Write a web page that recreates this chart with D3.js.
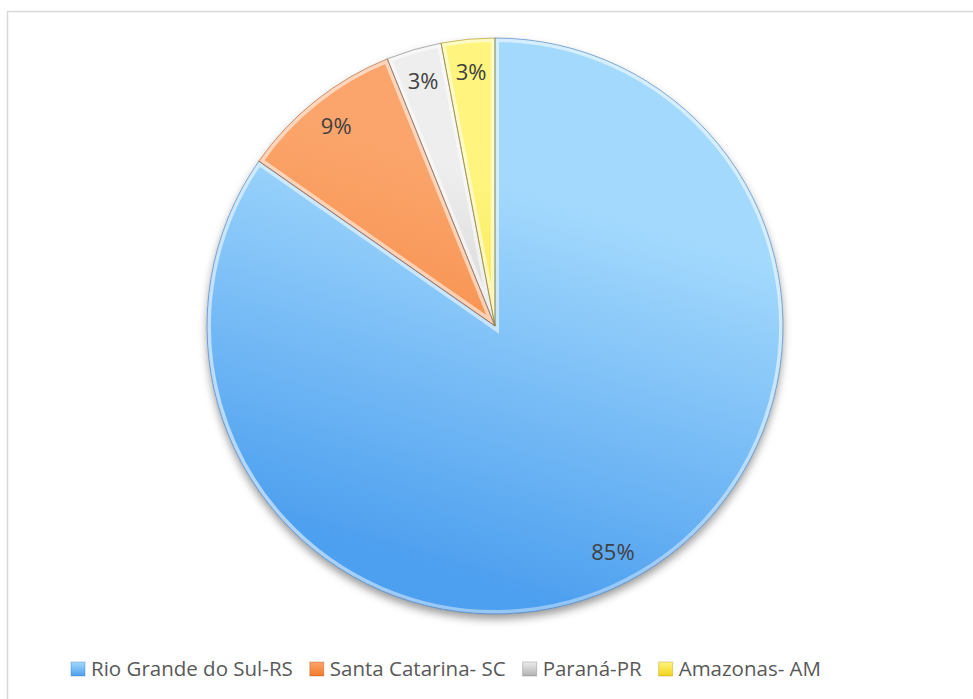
<!DOCTYPE html>
<html>
<head>
<meta charset="utf-8">
<script src="https://cdn.jsdelivr.net/npm/d3@7"></script>
<style>
  body { margin: 0; background: #fff; }
  text { font-family: "Open Sans", "Noto Sans", sans-serif; }
</style>
</head>
<body>
<script>
const categories = ["Rio Grande do Sul-RS", "Santa Catarina- SC", "Paraná-PR", "Amazonas- AM"];
const values = [84.7, 9.2, 3.1, 3.0];
const labels = ["85%", "9%", "3%", "3%"];

const width = 973,
  height = 699,
  cx = 495,
  cy = 326,
  radius = 288;

const colors = [
  { top: "#a3d9fd", bottom: "#4d9fef", edge: "#2f6fb8" },
  { top: "#fba56c", bottom: "#f27a2b", edge: "#a84f18" },
  { top: "#eeeeee", bottom: "#b0b0b0", edge: "#6f6f6f" },
  { top: "#fff57e", bottom: "#f2d31a", edge: "#9a830c" }
];

const svg = d3.select("body").append("svg")
  .attr("width", width)
  .attr("height", height);

// chart frame
svg.append("rect")
  .attr("x", 7.5).attr("y", 11.5)
  .attr("width", width + 20).attr("height", height + 20)
  .attr("fill", "none")
  .attr("stroke", "#d9d9d9")
  .attr("stroke-width", 1.5);

const defs = svg.append("defs");

const shadow = defs.append("filter")
  .attr("id", "shadow")
  .attr("x", "-10%").attr("y", "-10%")
  .attr("width", "120%").attr("height", "120%");
shadow.append("feDropShadow")
  .attr("dx", 0).attr("dy", 5)
  .attr("stdDeviation", 4)
  .attr("flood-color", "#000")
  .attr("flood-opacity", 0.4);

colors.forEach((c, i) => {
  const g = defs.append("linearGradient")
    .attr("id", "grad" + i)
    .attr("gradientUnits", "userSpaceOnUse")
    .attr("x1", cx + radius * 0.4).attr("y1", cy - radius)
    .attr("x2", cx - radius * 0.2).attr("y2", cy + radius);
  g.append("stop").attr("offset", "0%").attr("stop-color", c.top);
  g.append("stop").attr("offset", "65%").attr("stop-color", c.bottom);

  const lg = defs.append("linearGradient")
    .attr("id", "lg" + i)
    .attr("x1", 0).attr("y1", 0).attr("x2", 0).attr("y2", 1);
  lg.append("stop").attr("offset", "0%").attr("stop-color", c.top);
  lg.append("stop").attr("offset", "100%").attr("stop-color", c.bottom);
});

// light on top, dark on the bottom, for the bevelled rim
const bevel = defs.append("linearGradient")
  .attr("id", "bevel")
  .attr("gradientUnits", "userSpaceOnUse")
  .attr("x1", cx - radius * 0.3).attr("y1", cy - radius)
  .attr("x2", cx + radius * 0.3).attr("y2", cy + radius);
bevel.append("stop").attr("offset", "0%").attr("stop-color", "#fff").attr("stop-opacity", 0.55);
bevel.append("stop").attr("offset", "55%").attr("stop-color", "#fff").attr("stop-opacity", 0.15);
bevel.append("stop").attr("offset", "80%").attr("stop-color", "#0a2a55").attr("stop-opacity", 0.15);
bevel.append("stop").attr("offset", "100%").attr("stop-color", "#0a2a55").attr("stop-opacity", 0.55);

const pie = d3.pie().sort(null).value(d => d);
const arcs = pie(values);

const arc = d3.arc().innerRadius(0).outerRadius(radius);
const labelArc = d3.arc().innerRadius(255).outerRadius(255);

const g = svg.append("g")
  .attr("transform", `translate(${cx},${cy})`);

arcs.forEach((a, i) => {
  defs.append("clipPath")
    .attr("id", "clip" + i)
    .append("path")
    .attr("d", arc(a));
});

const slices = g.append("g").attr("filter", "url(#shadow)");

slices.selectAll("path.slice")
  .data(arcs)
  .join("path")
  .attr("class", "slice")
  .attr("d", arc)
  .attr("fill", (d, i) => `url(#grad${i})`);

g.selectAll("path.bevel")
  .data(arcs)
  .join("path")
  .attr("class", "bevel")
  .attr("d", arc)
  .attr("clip-path", (d, i) => `url(#clip${i})`)
  .attr("fill", "none")
  .attr("stroke", "url(#bevel)")
  .attr("stroke-width", 8);

g.selectAll("path.edge")
  .data(arcs)
  .join("path")
  .attr("class", "edge")
  .attr("d", arc)
  .attr("fill", "none")
  .attr("stroke", (d, i) => colors[i].edge)
  .attr("stroke-opacity", 0.55)
  .attr("stroke-width", 1);

g.selectAll("text.label")
  .data(arcs)
  .join("text")
  .attr("class", "label")
  .attr("transform", d => `translate(${labelArc.centroid(d)})`)
  .attr("text-anchor", "middle")
  .attr("dy", "0.35em")
  .attr("font-size", 22)
  .attr("fill", "#404040")
  .text((d, i) => labels[i]);

// legend
const legend = svg.append("g").attr("transform", "translate(71,676)");
let lx = 0;
categories.forEach((name, i) => {
  const item = legend.append("g").attr("transform", `translate(${lx},0)`);
  item.append("rect")
    .attr("x", 0).attr("y", -14)
    .attr("width", 14).attr("height", 14)
    .attr("fill", `url(#lg${i})`)
    .attr("stroke", colors[i].edge)
    .attr("stroke-opacity", 0.35)
    .attr("stroke-width", 1);
  const t = item.append("text")
    .attr("x", 20)
    .attr("font-size", 20.5)
    .attr("fill", "#595959")
    .text(name);
  lx += 20 + t.node().getComputedTextLength() + 17;
});
</script>
</body>
</html>
